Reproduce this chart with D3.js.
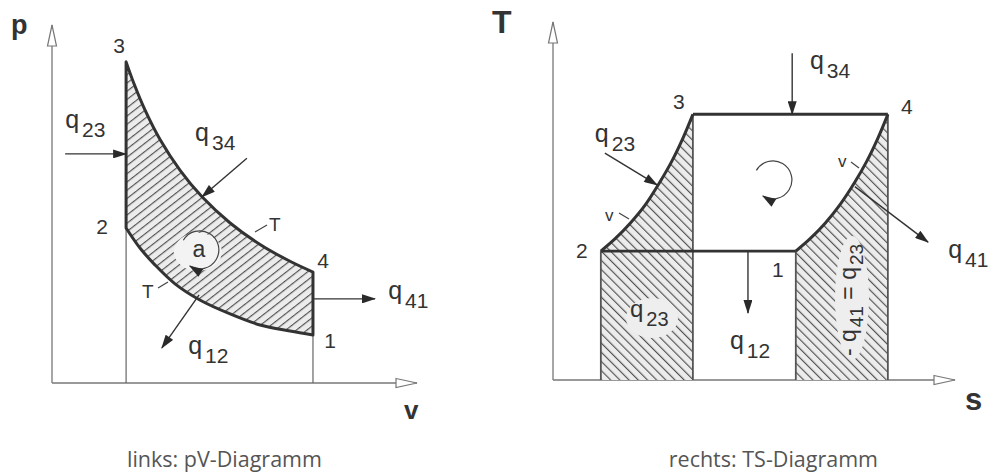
<!DOCTYPE html>
<html>
<head>
<meta charset="utf-8">
<script src="https://cdn.jsdelivr.net/npm/d3@7"></script>
<style>
  body { margin: 0; background: #fff; }
  svg { display: block; }
  .lbl { font-family: "Liberation Sans", Arial, sans-serif; fill: #333; }
  .axl { font-family: "Liberation Sans", Arial, sans-serif; font-weight: 700; fill: #333; }
  .cap { font-family: "Open Sans", sans-serif; fill: #555; font-size: 21.5px; }
</style>
</head>
<body>
<svg id="chart" width="995" height="476"></svg>
<script>
// cycle state points 1..4
const stateNames = ["1", "2", "3", "4"];
const pvVolume = [7.15, 2.03, 2.03, 7.15];
const pvPressure = [1.34, 4.33, 8.97, 3.10];
// isotherms: 3 -> 4 (upper) and 2 -> 1 (lower)
const iso34V = [2.03, 2.25, 2.55, 2.96, 3.51, 4.11, 4.88, 5.70, 6.52, 7.15];
const iso34P = [8.97, 8.35, 7.62, 6.80, 5.94, 5.20, 4.47, 3.87, 3.40, 3.10];
const iso21V = [2.03, 2.41, 2.82, 3.37, 4.05, 4.88, 5.70, 6.52, 7.15];
const iso21P = [4.33, 3.77, 3.30, 2.77, 2.32, 1.93, 1.62, 1.45, 1.34];

const tsEntropy = [6.04, 1.19, 3.48, 8.33];
const tsTemp = [3.60, 3.60, 7.42, 7.42];
// isochores 2 -> 3 and 1 -> 4
const isoch23S = [1.19, 1.54, 1.92, 2.30, 2.66, 2.96, 3.23, 3.48];
const isoch23T = [3.60, 3.94, 4.38, 4.90, 5.53, 6.12, 6.75, 7.42];
const isoch14S = [6.04, 6.39, 6.77, 7.14, 7.51, 7.81, 8.08, 8.33];
const isoch14T = [3.60, 3.94, 4.38, 4.90, 5.53, 6.12, 6.75, 7.42];

// heat flow arrows (from -> to) and their labels, in diagram units
const heatSubs = ["23", "34", "41", "12"];
const pvArrowFrom = [[0.36, 6.40], [5.34, 6.28], [7.15, 2.35], [4.03, 2.46]];
const pvArrowTo = [[2.03, 6.40], [4.11, 5.20], [8.85, 2.35], [3.01, 0.98]];
const pvLabelAt = [[0.36, 7.12], [3.92, 6.75], [9.21, 2.35], [3.73, 0.80]];
const tsArrowFrom = [[1.29, 6.34], [5.95, 9.13], [7.51, 5.40], [4.85, 3.60]];
const tsArrowTo = [[2.59, 5.45], [5.95, 7.42], [9.33, 3.85], [4.85, 1.87]];
const tsLabelAt = [[1.04, 6.65], [6.39, 8.70], [9.83, 3.42], [4.40, 0.86]];

const axisMax = 10;
const captions = ["links: pV-Diagramm", "rechts: TS-Diagramm"];

const svg = d3.select("#chart");
const defs = svg.append("defs");

const xL = d3.scaleLinear().domain([0, axisMax]).range([52, 417]);
const yL = d3.scaleLinear().domain([0, axisMax]).range([383, 25]);
const xR = d3.scaleLinear().domain([0, axisMax]).range([553, 955]);
const yR = d3.scaleLinear().domain([0, axisMax]).range([380, 22]);

defs.append("marker")
  .attr("id", "ah")
  .attr("viewBox", "0 0 14 9")
  .attr("markerUnits", "userSpaceOnUse")
  .attr("markerWidth", 15)
  .attr("markerHeight", 9)
  .attr("refX", 13)
  .attr("refY", 4.5)
  .attr("orient", "auto")
  .append("path")
  .attr("d", "M0,0 L14,4.5 L0,9 Z")
  .attr("fill", "#2a2a2a");

defs.append("marker")
  .attr("id", "open")
  .attr("viewBox", "-1 -1 24 12")
  .attr("markerUnits", "userSpaceOnUse")
  .attr("markerWidth", 24)
  .attr("markerHeight", 12)
  .attr("refX", 21)
  .attr("refY", 5)
  .attr("orient", "auto")
  .append("path")
  .attr("d", "M0,0.5 L21,5 L0,9.5 Z M0,0 L0,10")
  .attr("fill", "#fff")
  .attr("stroke", "#777")
  .attr("stroke-width", 1.2);

function hatch(id, angle, gap) {
  const p = defs.append("pattern")
    .attr("id", id)
    .attr("patternUnits", "userSpaceOnUse")
    .attr("width", gap)
    .attr("height", gap)
    .attr("patternTransform", `rotate(${angle})`);
  p.append("rect").attr("width", gap).attr("height", gap).attr("fill", "#ececec");
  p.append("line")
    .attr("x1", 0.6).attr("y1", 0).attr("x2", 0.6).attr("y2", gap)
    .attr("stroke", "#4a4a4a").attr("stroke-width", 1.1);
}
hatch("hL", 52, 6.5);
hatch("hR", -45, 6.5);

function axes(x, y) {
  svg.append("line")
    .attr("x1", x(0)).attr("y1", y(0)).attr("x2", x(axisMax)).attr("y2", y(0))
    .attr("stroke", "#777").attr("stroke-width", 1.3)
    .attr("marker-end", "url(#open)");
  svg.append("line")
    .attr("x1", x(0)).attr("y1", y(0)).attr("x2", x(0)).attr("y2", y(axisMax))
    .attr("stroke", "#777").attr("stroke-width", 1.3)
    .attr("marker-end", "url(#open)");
}

function qLabel(x, y, sub, size) {
  const t = svg.append("text").attr("class", "lbl")
    .attr("x", x).attr("y", y).style("font-size", size + "px");
  t.append("tspan").text("q");
  t.append("tspan").attr("dx", 3).attr("dy", 9)
    .style("font-size", Math.round(size * 0.82) + "px").text(sub);
  return t;
}

function arrow(x1, y1, x2, y2) {
  svg.append("line")
    .attr("x1", x1).attr("y1", y1).attr("x2", x2).attr("y2", y2)
    .attr("stroke", "#333").attr("stroke-width", 1.4)
    .attr("marker-end", "url(#ah)");
}

function turnArrow(cx, cy, r) {
  const p = d3.path();
  const a0 = -150 * Math.PI / 180;
  const a1 = 122 * Math.PI / 180;
  p.arc(cx, cy, r, a0, a1, false);
  svg.append("path").attr("d", p.toString())
    .attr("fill", "none").attr("stroke", "#444").attr("stroke-width", 1.2)
    .attr("marker-end", "url(#ah)");
}

function tick(x1, y1, x2, y2) {
  svg.append("line").attr("x1", x1).attr("y1", y1).attr("x2", x2).attr("y2", y2)
    .attr("stroke", "#444").attr("stroke-width", 1.2);
}

// ---------- left: pV ----------
const lineL = d3.line().x(d => xL(d[0])).y(d => yL(d[1])).curve(d3.curveCatmullRom.alpha(0.5));
const upper = d3.zip(iso34V, iso34P);
const lower = d3.zip(iso21V, iso21P);

axes(xL, yL);

// guide lines from states 2 and 1 down to the v axis
[1, 0].forEach(i => {
  svg.append("line")
    .attr("x1", xL(pvVolume[i])).attr("y1", yL(pvPressure[i]))
    .attr("x2", xL(pvVolume[i])).attr("y2", yL(0))
    .attr("stroke", "#666").attr("stroke-width", 1.2);
});

const regionL = lineL(upper) + "L" + lineL(lower.slice().reverse()).slice(1) + "Z";
svg.append("path").attr("d", regionL).attr("fill", "url(#hL)");

// light patch behind the work label
const aC = [4.05, 3.72];
svg.append("ellipse")
  .attr("cx", xL(aC[0]) - 2).attr("cy", yL(aC[1]) + 2)
  .attr("rx", 24).attr("ry", 19).attr("fill", "#f3f3f3");

svg.append("path").attr("d", regionL)
  .attr("fill", "none").attr("stroke", "#333").attr("stroke-width", 3)
  .attr("stroke-linejoin", "round");

turnArrow(xL(aC[0]), yL(aC[1]), 19);
svg.append("text").attr("class", "lbl")
  .attr("x", xL(aC[0]) - 1).attr("y", yL(aC[1]) + 7)
  .attr("text-anchor", "middle").style("font-size", "23px").text("a");

heatSubs.forEach((s, i) => {
  arrow(xL(pvArrowFrom[i][0]), yL(pvArrowFrom[i][1]), xL(pvArrowTo[i][0]), yL(pvArrowTo[i][1]));
  qLabel(xL(pvLabelAt[i][0]), yL(pvLabelAt[i][1]), s, 25);
});

// isotherm markers
tick(255, 232, 267, 225);
svg.append("text").attr("class", "lbl").attr("x", 269).attr("y", 231).style("font-size", "19px").text("T");
tick(158, 288, 168, 282);
svg.append("text").attr("class", "lbl").attr("x", 142).attr("y", 298).style("font-size", "19px").text("T");

const pvOff = [[17, 13], [-24, 6], [-7, -9], [10, -4]];
stateNames.forEach((n, i) => {
  svg.append("text").attr("class", "lbl")
    .attr("x", xL(pvVolume[i]) + pvOff[i][0]).attr("y", yL(pvPressure[i]) + pvOff[i][1])
    .attr("text-anchor", "middle").style("font-size", "21px").text(n);
});

svg.append("text").attr("class", "axl").attr("x", 11).attr("y", 34).style("font-size", "27px").text("p");
svg.append("text").attr("class", "axl").attr("x", 404).attr("y", 419).style("font-size", "26px").text("v");

// ---------- right: TS ----------
const lineR = d3.line().x(d => xR(d[0])).y(d => yR(d[1])).curve(d3.curveCatmullRom.alpha(0.5));
const c23 = d3.zip(isoch23S, isoch23T);
const c14 = d3.zip(isoch14S, isoch14T);

axes(xR, yR);

function underCurve(c) {
  const s0 = c[0][0], s1 = c[c.length - 1][0];
  return `M${xR(s0)},${yR(0)}L` + lineR(c).slice(1) + `L${xR(s1)},${yR(0)}Z`;
}
svg.append("path").attr("d", underCurve(c23)).attr("fill", "url(#hR)");
svg.append("path").attr("d", underCurve(c14)).attr("fill", "url(#hR)");

// light patches behind labels inside the hatched areas
svg.append("ellipse").attr("cx", 652).attr("cy", 318).attr("rx", 26).attr("ry", 20).attr("fill", "#eeeeee");
svg.append("ellipse").attr("cx", 852).attr("cy", 298).attr("rx", 17).attr("ry", 62).attr("fill", "#eeeeee");

// verticals down to the s axis
[1, 2, 0, 3].forEach(i => {
  svg.append("line")
    .attr("x1", xR(tsEntropy[i])).attr("y1", yR(tsTemp[i]))
    .attr("x2", xR(tsEntropy[i])).attr("y2", yR(0))
    .attr("stroke", "#555").attr("stroke-width", 1.8);
});

// cycle outline
svg.append("line")
  .attr("x1", xR(tsEntropy[1])).attr("y1", yR(tsTemp[1]))
  .attr("x2", xR(tsEntropy[0])).attr("y2", yR(tsTemp[0]))
  .attr("stroke", "#333").attr("stroke-width", 2.6);
svg.append("line")
  .attr("x1", xR(tsEntropy[2])).attr("y1", yR(tsTemp[2]))
  .attr("x2", xR(tsEntropy[3])).attr("y2", yR(tsTemp[3]))
  .attr("stroke", "#333").attr("stroke-width", 3);
[c23, c14].forEach(c => {
  svg.append("path").attr("d", lineR(c))
    .attr("fill", "none").attr("stroke", "#333").attr("stroke-width", 3);
});

turnArrow(xR(5.47), yR(5.59), 19);

heatSubs.forEach((s, i) => {
  arrow(xR(tsArrowFrom[i][0]), yR(tsArrowFrom[i][1]), xR(tsArrowTo[i][0]), yR(tsArrowTo[i][1]));
  qLabel(xR(tsLabelAt[i][0]), yR(tsLabelAt[i][1]), s, 25);
});
qLabel(630, 317, "23", 24);

// rotated label -q41 = q23
const rt = svg.append("text").attr("class", "lbl")
  .attr("transform", "translate(856,300) rotate(-90)")
  .attr("text-anchor", "middle").style("font-size", "23px");
rt.append("tspan").text("- q");
rt.append("tspan").attr("dx", 2).attr("dy", 7).style("font-size", "19px").text("41");
rt.append("tspan").attr("dy", -7).text(" = q");
rt.append("tspan").attr("dx", 2).attr("dy", 7).style("font-size", "19px").text("23");

// isochore markers
tick(619, 213, 629, 219);
svg.append("text").attr("class", "lbl").attr("x", 605).attr("y", 221).style("font-size", "17px").text("v");
tick(851, 162, 859, 168);
svg.append("text").attr("class", "lbl").attr("x", 838).attr("y", 167).style("font-size", "17px").text("v");

const tsOff = [[-18, 26], [-19, 7], [-14, -5], [19, 0]];
stateNames.forEach((n, i) => {
  svg.append("text").attr("class", "lbl")
    .attr("x", xR(tsEntropy[i]) + tsOff[i][0]).attr("y", yR(tsTemp[i]) + tsOff[i][1])
    .attr("text-anchor", "middle").style("font-size", "21px").text(n);
});

svg.append("text").attr("class", "axl").attr("x", 492).attr("y", 33).style("font-size", "32px").text("T");
svg.append("text").attr("class", "axl").attr("x", 965).attr("y", 410).style("font-size", "31px").text("s");

// captions
svg.append("text").attr("class", "cap").attr("x", 127).attr("y", 467).text(captions[0]);
svg.append("text").attr("class", "cap").attr("x", 878).attr("y", 467)
  .attr("text-anchor", "end").text(captions[1]);
</script>
</body>
</html>
